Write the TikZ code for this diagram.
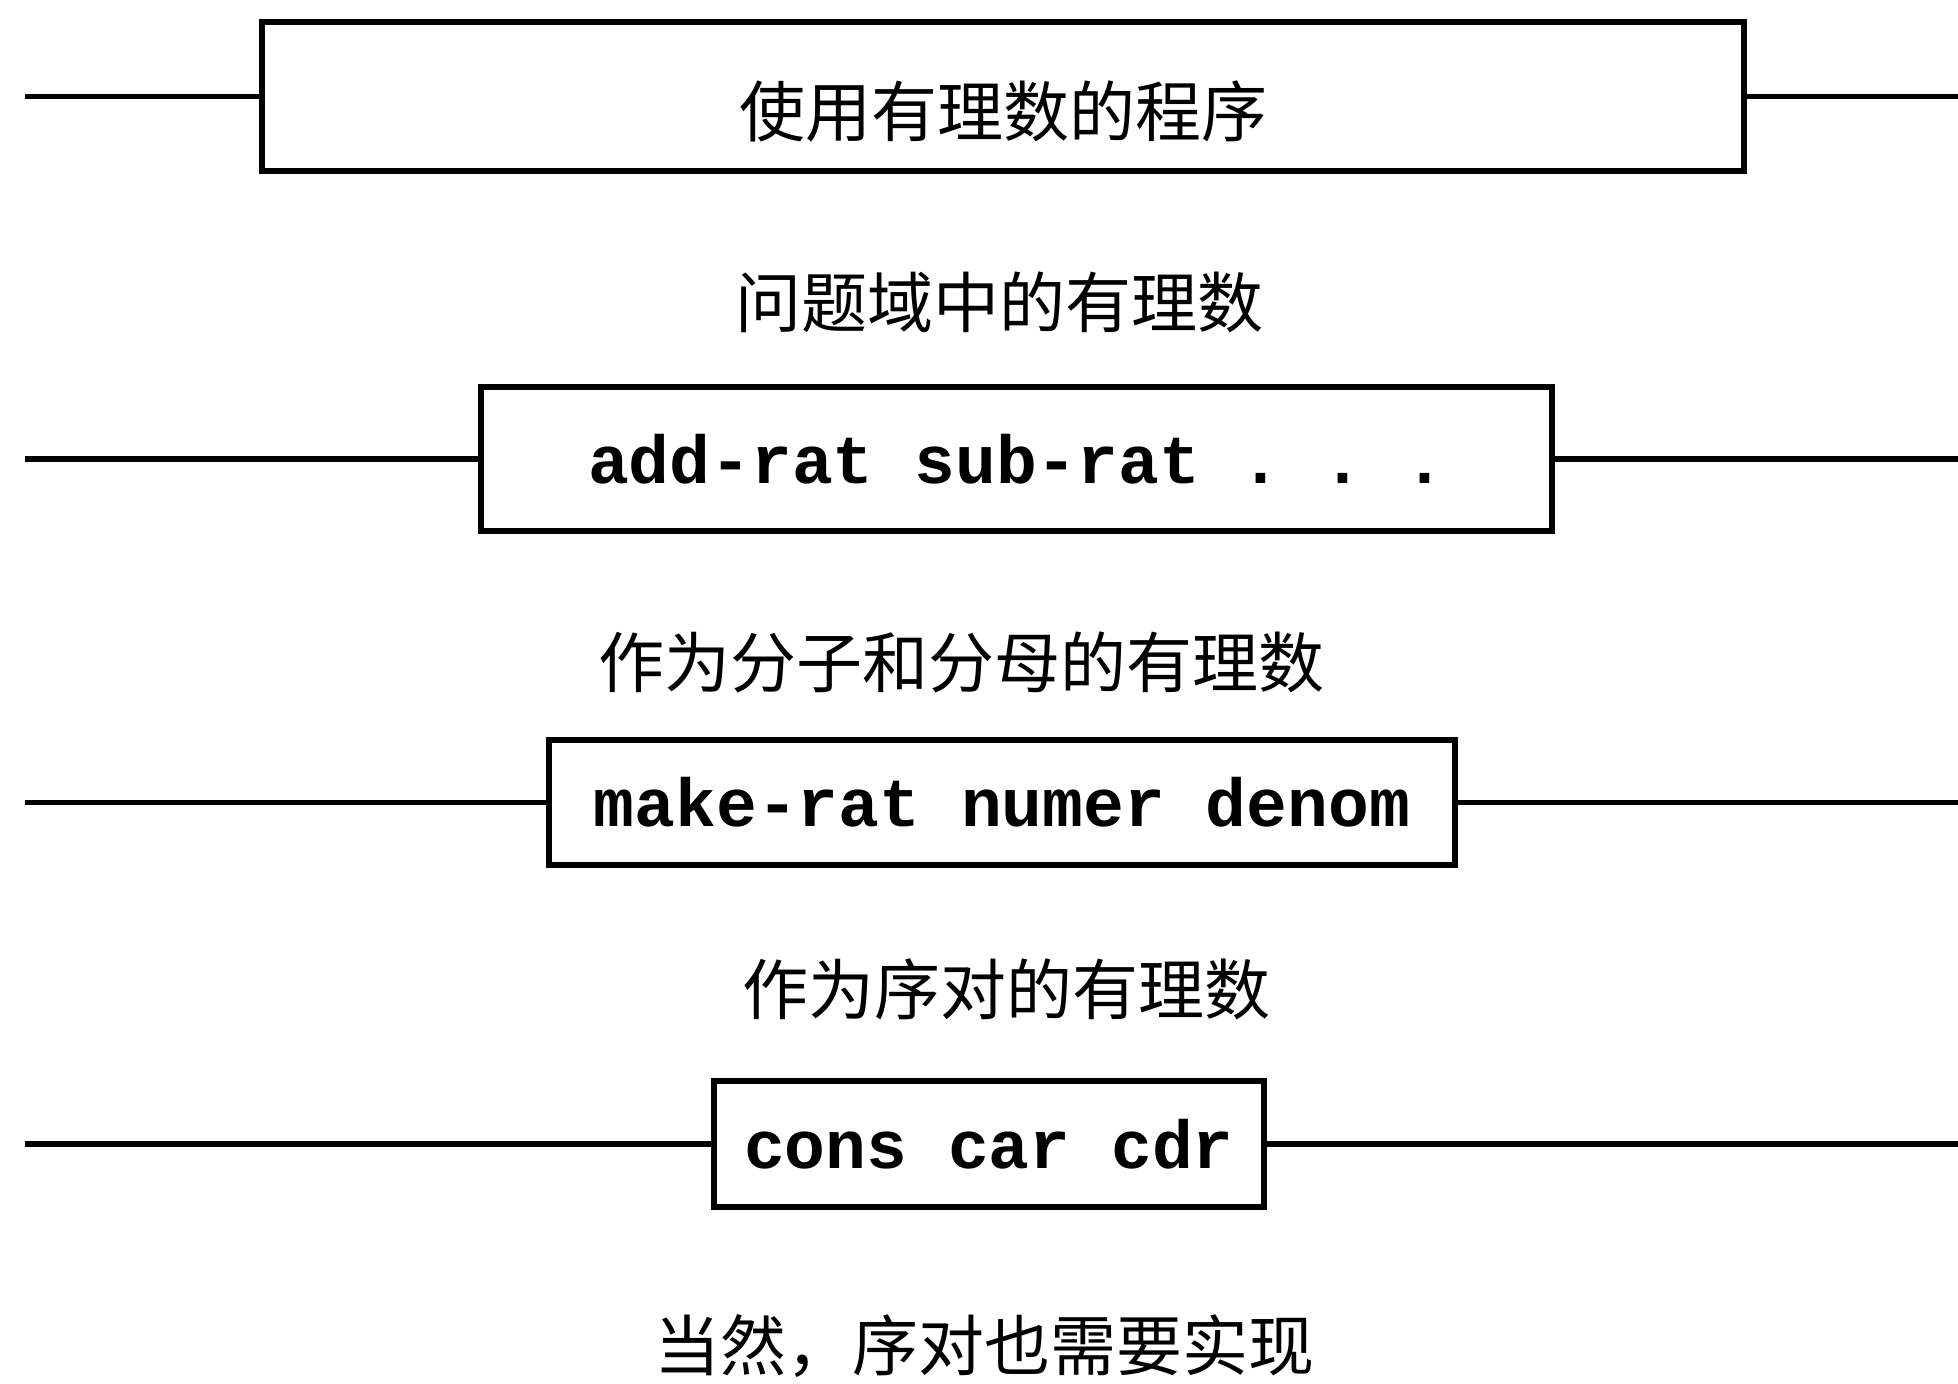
\documentclass[tikz,border=0pt]{standalone}
\usepackage{fontspec}
\setmonofont{Liberation Mono}
\newfontfamily\cjk{Noto Sans CJK SC}
\begin{document}
\begin{tikzpicture}[x=0.5pt,y=-0.5pt,
  layerbox/.style={draw=black,line width=2.6pt,inner sep=0pt,
    font=\ttfamily\bfseries\fontsize{34}{38}\selectfont},
  layerlabel/.style={inner sep=0pt,font=\cjk\fontsize{33}{38}\selectfont},
  conn/.style={line width=2.6pt}]
\useasboundingbox (0,0) rectangle (1958,1383);
% boxes
\node[layerbox,minimum width=741pt,minimum height=74.5pt,
  text height=44pt,text depth=4pt,
  font=\cjk\mdseries\fontsize{33}{38}\selectfont] (b1) at (1003,96.5) {使用有理数的程序};
\node[layerbox,minimum width=535.5pt,minimum height=72pt] (b2) at (1016.5,459) {add-rat sub-rat . . .};
\node[layerbox,minimum width=453pt,minimum height=62.5pt] (b3) at (1002,802.5) {make-rat numer denom};
\node[layerbox,minimum width=275pt,minimum height=63pt] (b4) at (989,1144) {cons car cdr};
% labels
\node[layerlabel] (t1) at (999,302) {问题域中的有理数};
\node[layerlabel] (t2) at (961,662) {作为分子和分母的有理数};
\node[layerlabel] (t3) at (1006,989) {作为序对的有理数};
\node[layerlabel] (t4) at (984,1346) {当然，序对也需要实现};
% connector ends
\coordinate (l1) at (25,96.5);  \coordinate (r1) at (1958,96.5);
\coordinate (l2) at (25,459);   \coordinate (r2) at (1958,459);
\coordinate (l3) at (25,802.5); \coordinate (r3) at (1958,802.5);
\coordinate (l4) at (25,1144);  \coordinate (r4) at (1958,1144);
\draw[conn] (l1) -- (b1.west); \draw[conn] (b1.east) -- (r1);
\draw[conn] (l2) -- (b2.west); \draw[conn] (b2.east) -- (r2);
\draw[conn] (l3) -- (b3.west); \draw[conn] (b3.east) -- (r3);
\draw[conn] (l4) -- (b4.west); \draw[conn] (b4.east) -- (r4);
\end{tikzpicture}
\end{document}
